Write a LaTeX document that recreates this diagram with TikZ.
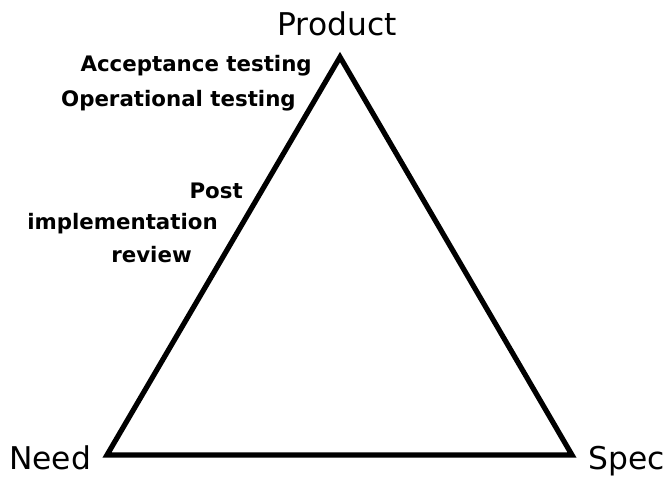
\documentclass[tikz,border=0pt]{standalone}
\usepackage{fontspec}
\setmainfont{DejaVu Sans}
\usepackage{tikz}

\tikzset{
  corner/.style={font=\fontsize{23.5}{28}\selectfont, inner sep=0pt},
  phase/.style={font=\fontsize{16}{19}\selectfont\bfseries, inner sep=0pt, anchor=east},
}

\begin{document}
\begin{tikzpicture}[x=0.75pt,y=-0.75pt]
\useasboundingbox (0,0) rectangle (665,479);

\coordinate (top) at (340,57);
\coordinate (need) at (107,455);
\coordinate (spec) at (572,455);
\draw[line width=3.9pt,line join=miter] (top) -- (spec) -- (need) -- cycle;

\node[corner] (product) at (337,24) {Product};
\node[corner] (needlbl) at (50,458) {Need};
\node[corner] (speclbl) at (627,461) {Spec};

\node[phase] (accept) at (312,66) {Acceptance testing};
\node[phase] (oper) at (296,101) {Operational testing};
\node[phase] (post) at (243,191) {Post};
\node[phase] (impl) at (218,224) {implementation};
\node[phase] (review) at (192,255) {review};

\end{tikzpicture}
\end{document}
